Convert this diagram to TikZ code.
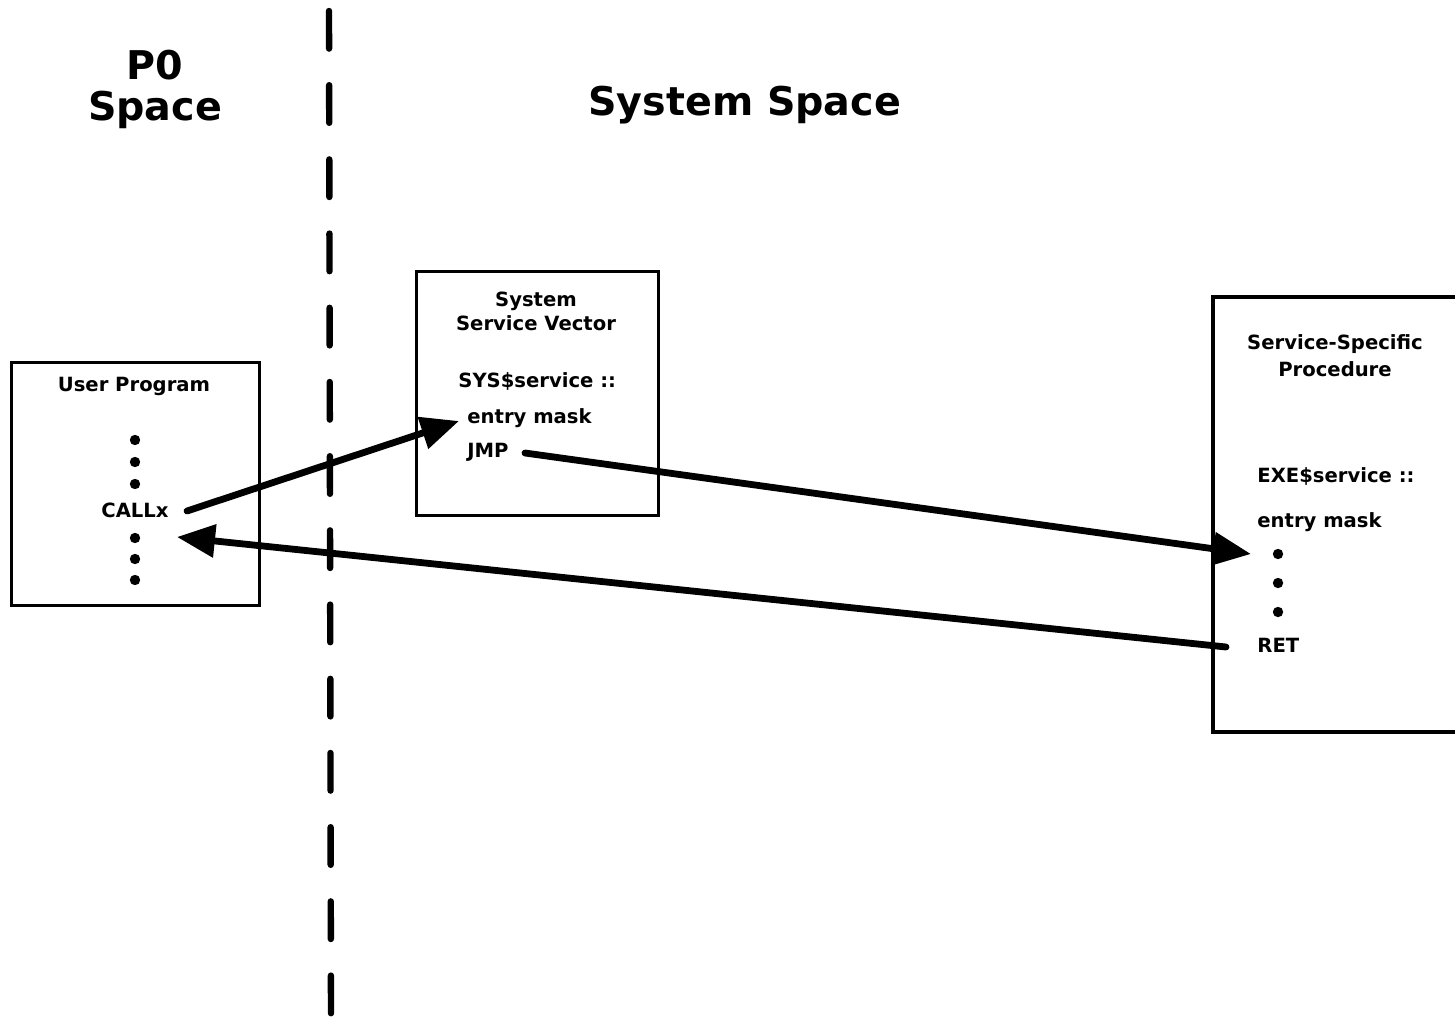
\documentclass[tikz,border=0pt]{standalone}
\usepackage{fontspec}
\setmainfont{DejaVu Sans}
\usetikzlibrary{arrows.meta}
\tikzset{
  box/.style={draw=black, line width=1.6pt},
  lbl/.style={inner sep=0pt, font=\fontsize{9.8}{11}\selectfont\bfseries},
  ttl/.style={inner sep=0pt, font=\fontsize{19.8}{22}\selectfont\bfseries},
  flow/.style={line width=3.4pt, line cap=round, -{Triangle[length=19pt,width=16pt]}},
  divider/.style={line width=3.2pt, line cap=round, dash pattern=on 18.8pt off 18.3pt},
  dot/.style={circle, fill=black, inner sep=0pt, minimum size=5.2pt}
}
\begin{document}
\begin{tikzpicture}[x=0.5pt, y=-0.5pt]
\useasboundingbox (0,0) rectangle (1455,1021);
% divider
\coordinate (dtop) at (329,11);
\coordinate (dbot) at (331,1021);
\draw[divider] (dtop) -- (dbot);
% titles
\node[ttl, anchor=base] (p0) at (155,80) {P0};
\node[ttl, anchor=base] (p0s) at (155,121) {Space};
\node[ttl, anchor=base west] (sys) at (588,116) {System Space};
% user program box
\node[box, minimum width=124pt, minimum height=121.5pt, anchor=north west] (ubox) at (10,361) {};
\node[lbl, anchor=base] (ut) at (134,392) {User Program};
\node[dot] (u1) at (135,440) {};
\node[dot] (u2) at (135,462) {};
\node[dot] (u3) at (135,484) {};
\node[lbl, anchor=base] (callx) at (135,517) {CALLx};
\node[dot] (u4) at (135,538) {};
\node[dot] (u5) at (135,559) {};
\node[dot] (u6) at (135,580) {};
% system service vector box
\node[box, minimum width=121pt, minimum height=122pt, anchor=north west] (sbox) at (415,270) {};
\node[lbl, anchor=base] (st1) at (536,307) {System};
\node[lbl, anchor=base] (st2) at (536,331) {Service Vector};
\node[lbl, anchor=base west] (sysserv) at (458,387) {SYS\$service ::};
\node[lbl, anchor=base west] (sem) at (467,423) {entry mask};
\node[lbl, anchor=base west] (jmp) at (467,457) {JMP};
% service specific procedure box (right side cut off)
\coordinate (rtr) at (1455,297);
\coordinate (rtl) at (1213,297);
\coordinate (rbl) at (1213,732);
\coordinate (rbr) at (1455,732);
\draw[line width=1.6pt] (rtr) -- (rtl) -- (rbl) -- (rbr);
\node[lbl, anchor=base] (rt1) at (1335,350) {Service-Specific};
\node[lbl, anchor=base] (rt2) at (1335,377) {Procedure};
\node[lbl, anchor=base west] (exeserv) at (1257,482) {EXE\$service ::};
\node[lbl, anchor=base west] (rem) at (1257,527) {entry mask};
\node[dot] (r1) at (1278,554) {};
\node[dot] (r2) at (1278,583) {};
\node[dot] (r3) at (1278,612) {};
\node[lbl, anchor=base west] (ret) at (1257,652) {RET};
% connectors
\coordinate (a1s) at (187,511);
\coordinate (a1e) at (459,421);
\coordinate (a2s) at (525,453);
\coordinate (a2e) at (1251,554);
\coordinate (a3s) at (1226,647);
\coordinate (a3e) at (177,537);
\draw[flow] (a1s) -- (a1e);
\draw[flow] (a2s) -- (a2e);
\draw[flow] (a3s) -- (a3e);
\end{tikzpicture}
\end{document}
